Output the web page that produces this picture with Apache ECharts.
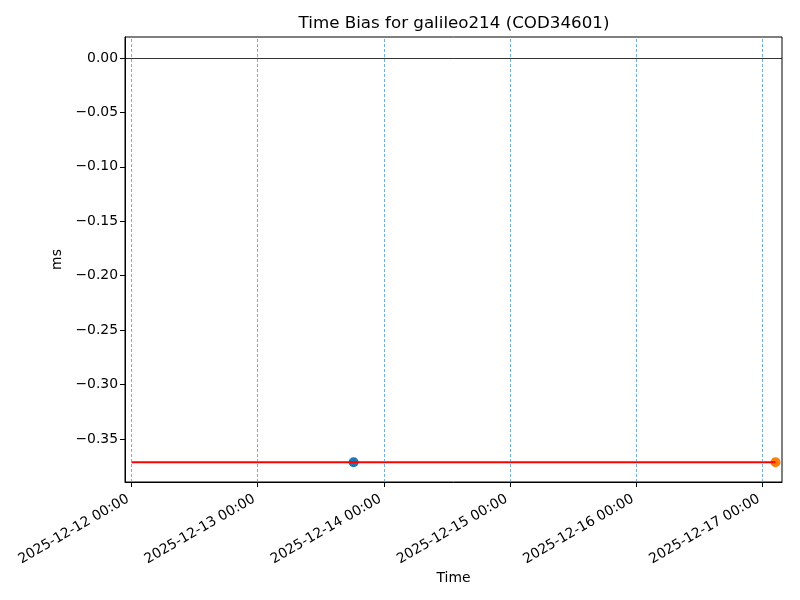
<!DOCTYPE html>
<html>
<head>
<meta charset="utf-8">
<script src="https://cdn.jsdelivr.net/npm/echarts@6/dist/echarts.min.js"></script>
<style>html,body{margin:0;padding:0;background:#fff}#c{width:800px;height:600px}</style>
</head>
<body>
<div id="c"></div>
<script>
// ---- data ----
const titleText = 'Time Bias for galileo214 (COD34601)';
const xName = 'Time';
const yName = 'ms';
const dayTicks = ['2025-12-12', '2025-12-13', '2025-12-14', '2025-12-15', '2025-12-16', '2025-12-17'];
const vLineDays = ['2025-12-12', '2025-12-13', '2025-12-14', '2025-12-15', '2025-12-16', '2025-12-17'];
const yTicks = [0, -0.05, -0.10, -0.15, -0.20, -0.25, -0.30, -0.35];
const redLineTimes = ['2025-12-12T00:00:00Z', '2025-12-17T02:30:00Z'];
const redLineValues = [-0.3714, -0.3714];
const bluePointTime = ['2025-12-13T18:15:00Z'];
const bluePointValue = [-0.3714];
const orangePointTime = ['2025-12-17T02:30:00Z'];
const orangePointValue = [-0.3714];
const xRange = ['2025-12-11T22:46:00Z', '2025-12-17T03:44:00Z'];
const yRange = [-0.3895, 0.0193];

const t = s => Date.parse(s.length === 10 ? s + 'T00:00:00Z' : s);
const pad = n => String(n).padStart(2, '0');
const fmtDate = v => { const d = new Date(v); return d.getUTCFullYear() + '-' + pad(d.getUTCMonth() + 1) + '-' + pad(d.getUTCDate()) + ' ' + pad(d.getUTCHours()) + ':' + pad(d.getUTCMinutes()); };
const fmtY = v => { const s = Math.abs(v) < 1e-9 ? '0.00' : v.toFixed(2); return s.replace('-', '\u2212'); };

const FONT = 'DejaVu Sans';
const chart = echarts.init(document.getElementById('c'), null, { renderer: 'canvas' });
const tickVals = dayTicks.map(t);

chart.setOption({
  animation: false,
  backgroundColor: '#fff',
  title: {
    text: titleText, left: 449, top: 10, textAlign: 'center',
    textStyle: { fontFamily: FONT, fontSize: 16.7, fontWeight: 'normal', color: '#000' }
  },
  grid: { left: 125, right: 18, top: 37, bottom: 118, show: true, borderColor: '#000', borderWidth: 1, containLabel: false },
  xAxis: {
    type: 'value', min: t(xRange[0]), max: t(xRange[1]), scale: true,
    name: xName, nameLocation: 'middle', nameGap: 89, nameMoveOverlap: false,
    nameTextStyle: { fontFamily: FONT, fontSize: 13.9, color: '#000' },
    axisLine: { show: true, onZero: false, lineStyle: { color: '#000', width: 1 } },
    axisTick: { show: true, length: 5, lineStyle: { color: '#000' }, customValues: tickVals },
    axisLabel: { show: true, rotate: 30, margin: 14, padding: [0, 4, 0, 0], fontFamily: FONT, fontSize: 13.9, color: '#000', customValues: tickVals, formatter: v => fmtDate(v), hideOverlap: false },
    splitLine: { show: false }
  },
  yAxis: {
    type: 'value', min: yRange[0], max: yRange[1],
    name: yName, nameLocation: 'middle', nameGap: 55, nameRotate: 90,
    nameTextStyle: { fontFamily: FONT, fontSize: 13.9, color: '#000' },
    axisLine: { show: true, onZero: false, lineStyle: { color: '#000', width: 1 } },
    axisTick: { show: true, length: 5, lineStyle: { color: '#000' }, customValues: yTicks },
    axisLabel: { show: true, margin: 7, fontFamily: FONT, fontSize: 13.9, color: '#000', customValues: yTicks, formatter: v => fmtY(v) },
    splitLine: { show: false }
  },
  series: [
    {
      type: 'line', name: 'vlines', data: [], silent: true,
      markLine: {
        silent: true, symbol: 'none', animation: false, label: { show: false },
        lineStyle: { color: '#4f9ad3', width: 0.8, type: [3, 2] },
        data: vLineDays.map(d => ({ xAxis: t(d) }))
      }
    },
    {
      type: 'line', name: 'zero', data: [], silent: true,
      markLine: {
        silent: true, symbol: 'none', animation: false, label: { show: false },
        lineStyle: { color: '#000', width: 0.8, type: 'solid' },
        data: [{ yAxis: 0 }]
      }
    },
    {
      type: 'line', name: 'bias', showSymbol: false, symbol: 'none',
      lineStyle: { color: '#ff0000', width: 2 },
      data: redLineTimes.map((s, i) => [t(s), redLineValues[i]])
    },
    {
      type: 'scatter', name: 'p1', symbol: 'circle', symbolSize: 10,
      itemStyle: { color: '#1f77b4', opacity: 1 },
      data: bluePointTime.map((s, i) => [t(s), bluePointValue[i]])
    },
    {
      type: 'scatter', name: 'p2', symbol: 'circle', symbolSize: 10,
      itemStyle: { color: '#ff7f0e', opacity: 1 },
      data: orangePointTime.map((s, i) => [t(s), orangePointValue[i]])
    }
  ]
});
</script>
</body>
</html>
